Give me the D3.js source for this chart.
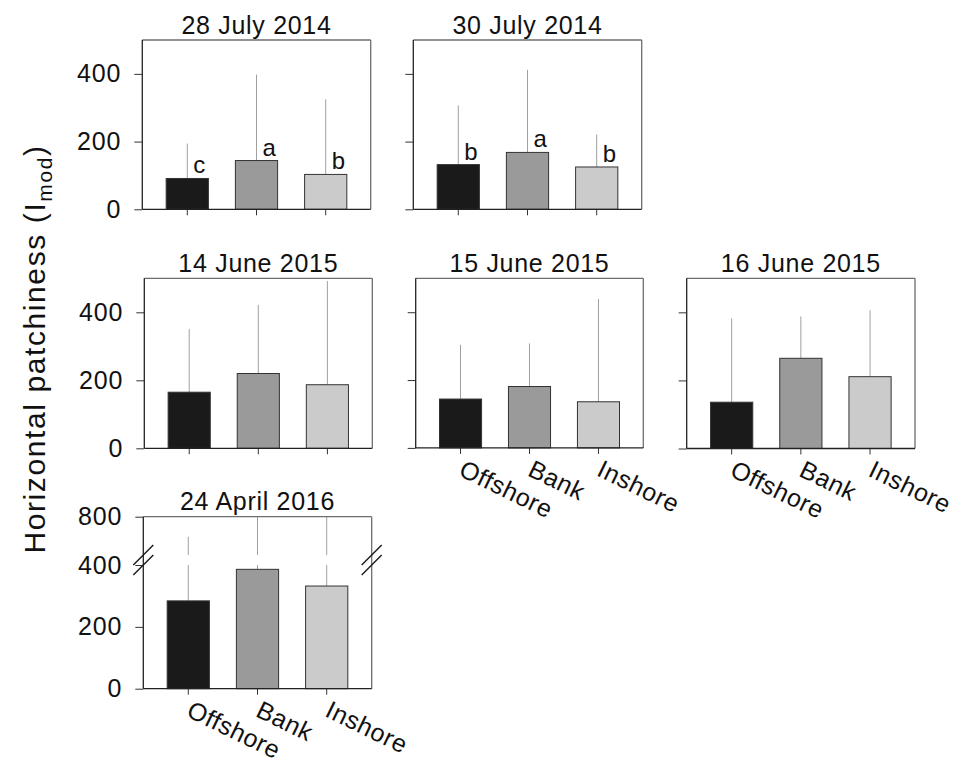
<!DOCTYPE html>
<html>
<head>
<meta charset="utf-8">
<script src="https://cdn.jsdelivr.net/npm/d3@7"></script>
<style>
  body { margin: 0; background: #fff; }
  svg { display: block; font-family: "Liberation Sans", Arial, Helvetica, sans-serif; }
</style>
</head>
<body>
<svg id="chart" width="955" height="766"></svg>
<script>
// ---- data -------------------------------------------------------------
const sites = ["Offshore", "Bank", "Inshore"];
const surveyDates = ["28 July 2014", "30 July 2014", "14 June 2015",
                     "15 June 2015", "16 June 2015", "24 April 2016"];

// mean I_mod and standard deviation per site, one pair per survey date
const mean_28Jul2014 = [91, 144, 103];
const sd_28Jul2014   = [103, 254, 222];
const sig_28Jul2014  = ["c", "a", "b"];

const mean_30Jul2014 = [132, 168, 125];
const sd_30Jul2014   = [175, 244, 96];
const sig_30Jul2014  = ["b", "a", "b"];

const mean_14Jun2015 = [165, 220, 187];
const sd_14Jun2015   = [186, 202, 305];

const mean_15Jun2015 = [144, 181, 136];
const sd_15Jun2015   = [160, 127, 303];

const mean_16Jun2015 = [136, 265, 211];
const sd_16Jun2015   = [246, 123, 195];

const mean_24Apr2016 = [284, 386, 332];
const sd_24Apr2016   = [306, 470, 500];

const yTicks      = [0, 200, 400];
const yTicksLow   = [0, 200, 400];
const yTicksHigh  = [800];

// ---- appearance ---------------------------------------------------------
const fills = ["#1a1a1a", "#9a9a9a", "#cbcbcb"];
const FONT = 25;
const INK = "#111";

const panels = [
  { title: surveyDates[0], mean: mean_28Jul2014, sd: sd_28Jul2014, sig: sig_28Jul2014,
    x: 142.3, y: 40,    w: 228.4, h: 169.3, yLab: true,  xLab: false },
  { title: surveyDates[1], mean: mean_30Jul2014, sd: sd_30Jul2014, sig: sig_30Jul2014,
    x: 413.3, y: 40,    w: 228.4, h: 169.3, yLab: false, xLab: false },
  { title: surveyDates[2], mean: mean_14Jun2015, sd: sd_14Jun2015,
    x: 144.3, y: 278.3, w: 228.0, h: 170.0, yLab: true,  xLab: false },
  { title: surveyDates[3], mean: mean_15Jun2015, sd: sd_15Jun2015,
    x: 415.7, y: 278.3, w: 227.6, h: 169.6, yLab: false, xLab: true },
  { title: surveyDates[4], mean: mean_16Jun2015, sd: sd_16Jun2015,
    x: 686.7, y: 278.3, w: 228.3, h: 170.2, yLab: false, xLab: true },
  { title: surveyDates[5], mean: mean_24Apr2016, sd: sd_24Apr2016,
    x: 143.3, y: 516.7, w: 228.4, h: 172.0, yLab: true,  xLab: true, broken: true }
];

const svg = d3.select("#chart");

// y-axis title
const yt = svg.append("text")
  .attr("transform", "translate(45,349) rotate(-90)")
  .attr("text-anchor", "middle")
  .attr("font-size", 30)
  .attr("letter-spacing", "1.6px")
  .attr("fill", INK);
yt.append("tspan").text("Horizontal patchiness (I");
yt.append("tspan").attr("font-size", 21).attr("dy", 7).text("mod");
yt.append("tspan").attr("dy", -7).text(")");

panels.forEach(p => {
  const g = svg.append("g").attr("transform", `translate(${p.x},${p.y})`);

  const x = d3.scaleBand().domain(sites).range([0, p.w])
    .paddingInner(0.39).paddingOuter(0.345);

  // y mapping (single linear scale, or split scale for the broken axis)
  let yLow, yHigh, yPos;
  if (p.broken) {
    yLow  = d3.scaleLinear().domain([0, 400]).range([p.h, 48.3]);
    yHigh = d3.scaleLinear().domain([400, 800]).range([38.3, 0]).clamp(true);
    yPos = v => (v <= 400 ? yLow(v) : yHigh(v));
  } else {
    yLow = d3.scaleLinear().domain([0, 500]).range([p.h, 0]);
    yPos = yLow;
  }

  // error bars (upper half only)
  sites.forEach((s, i) => {
    const cx = x(s) + x.bandwidth() / 2;
    const top = p.mean[i] + p.sd[i];
    if (p.broken) {
      g.append("line").attr("x1", cx).attr("x2", cx)
        .attr("y1", yLow(p.mean[i])).attr("y2", yLow(Math.min(top, 400)))
        .attr("stroke", "#a0a0a0").attr("stroke-width", 1);
      if (top > 400) {
        g.append("line").attr("x1", cx).attr("x2", cx)
          .attr("y1", yHigh(400)).attr("y2", yHigh(top))
          .attr("stroke", "#a0a0a0").attr("stroke-width", 1);
      }
    } else {
      g.append("line").attr("x1", cx).attr("x2", cx)
        .attr("y1", yPos(p.mean[i])).attr("y2", yPos(Math.min(top, 500)))
        .attr("stroke", "#a0a0a0").attr("stroke-width", 1);
    }
  });

  // bars
  g.selectAll("rect.bar").data(sites).join("rect")
    .attr("class", "bar")
    .attr("x", d => x(d))
    .attr("width", x.bandwidth())
    .attr("y", (d, i) => yPos(p.mean[i]))
    .attr("height", (d, i) => p.h - yPos(p.mean[i]))
    .attr("fill", (d, i) => fills[i])
    .attr("stroke", "#333")
    .attr("stroke-width", 1);

  // significance letters
  if (p.sig) {
    g.selectAll("text.sig").data(sites).join("text")
      .attr("class", "sig")
      .attr("x", d => x(d) + x.bandwidth() / 2 + 6)
      .attr("y", (d, i) => yPos(p.mean[i]) - 5)
      .attr("font-size", 24)
      .attr("fill", INK)
      .text((d, i) => p.sig[i]);
  }

  // frame: top and right in grey, left and bottom in dark
  g.append("line").attr("x1", 0).attr("x2", p.w).attr("y1", 0).attr("y2", 0)
    .attr("stroke", "#6e6e6e").attr("stroke-width", 1.3);
  g.append("line").attr("x1", p.w).attr("x2", p.w).attr("y1", 0).attr("y2", p.h)
    .attr("stroke", "#6e6e6e").attr("stroke-width", 1.3);

  // y axis
  const styleAxis = sel => {
    sel.select(".domain").remove();
    sel.selectAll(".tick line").attr("stroke", "#333");
    sel.selectAll(".tick text")
      .attr("font-size", FONT).attr("fill", INK)
      .attr("letter-spacing", "0.9px")
      .attr("font-family", "\"Liberation Sans\", Arial, sans-serif");
  };
  const fmt = p.yLab ? d3.format("d") : () => "";
  if (p.broken) {
    g.append("g").call(d3.axisLeft(yLow).tickValues(yTicksLow).tickSize(8)
      .tickPadding(13).tickFormat(fmt)).call(styleAxis);
    g.append("g").call(d3.axisLeft(yHigh).tickValues(yTicksHigh).tickSize(8)
      .tickPadding(13).tickFormat(fmt)).call(styleAxis);
  } else {
    g.append("g").call(d3.axisLeft(yLow).tickValues(yTicks).tickSize(8)
      .tickPadding(13).tickFormat(fmt)).call(styleAxis);
  }
  g.append("line").attr("x1", 0).attr("x2", 0).attr("y1", 0).attr("y2", p.h)
    .attr("stroke", "#222").attr("stroke-width", 1.3);

  // x axis
  const xa = g.append("g").attr("transform", `translate(0,${p.h})`)
    .call(d3.axisBottom(x).tickSize(6).tickFormat(() => ""));
  xa.select(".domain").remove();
  xa.selectAll(".tick line").attr("stroke", "#333");
  g.append("line").attr("x1", 0).attr("x2", p.w).attr("y1", p.h).attr("y2", p.h)
    .attr("stroke", "#222").attr("stroke-width", 1.3);

  if (p.xLab) {
    g.selectAll("text.xl").data(sites).join("text")
      .attr("class", "xl")
      .attr("transform", d => `translate(${x(d) + x.bandwidth() / 2 - 3},${p.h + 27}) rotate(26)`)
      .attr("font-size", FONT)
      .attr("letter-spacing", "0.6px")
      .attr("fill", INK)
      .text(d => d);
  }

  // axis-break marks
  if (p.broken) {
    [0, p.w].forEach(bx => {
      [0, 10].forEach(off => {
        g.append("line")
          .attr("x1", bx - 10).attr("y1", yLow(400) + off)
          .attr("x2", bx + 10).attr("y2", yLow(400) + off - 20)
          .attr("stroke", "#1a1a1a").attr("stroke-width", 1.4);
      });
    });
  }

  // panel title
  g.append("text")
    .attr("x", p.w / 2).attr("y", -6.5)
    .attr("text-anchor", "middle")
    .attr("font-size", FONT)
    .attr("letter-spacing", "0.7px")
    .attr("fill", INK)
    .text(p.title);
});
</script>
</body>
</html>
